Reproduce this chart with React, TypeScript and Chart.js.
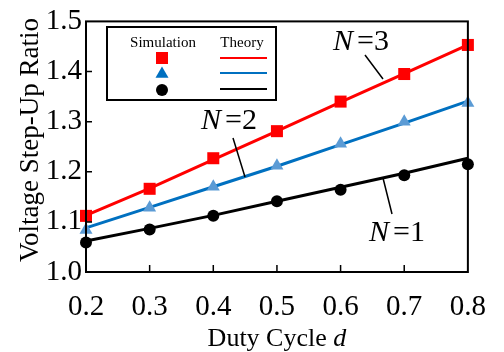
import React, { useEffect, useRef } from "react";
import { Chart, registerables } from "chart.js";

Chart.register(...registerables);

const dutyCycles = [0.2, 0.3, 0.4, 0.5, 0.6, 0.7, 0.8];
const simN3 = [1.112, 1.166, 1.227, 1.281, 1.340, 1.395, 1.453];
const simN2 = [1.084, 1.128, 1.170, 1.212, 1.256, 1.300, 1.337];
const simN1 = [1.059, 1.085, 1.112, 1.141, 1.164, 1.193, 1.215];
const theoryN3 = [1.113, 1.167, 1.224, 1.281, 1.339, 1.396, 1.453];
const theoryN2 = [1.088, 1.129, 1.170, 1.211, 1.254, 1.297, 1.341];
const theoryN1 = [1.062, 1.087, 1.113, 1.141, 1.169, 1.197, 1.227];
const xTicks = [0.2, 0.3, 0.4, 0.5, 0.6, 0.7, 0.8];
const yTicks = [1.0, 1.1, 1.2, 1.3, 1.4, 1.5];

const RED = "#ff0000";
const BLUE_LINE = "#0070c0";
const BLUE_MARK = "#5b9bd5";
const BLACK = "#000000";
const FONT = "'Liberation Serif', 'Times New Roman', serif";

const pts = (ys: number[]) => dutyCycles.map((x, i) => ({ x, y: ys[i] }));

function drawMarker(ctx: CanvasRenderingContext2D, style: string, x: number, y: number, r: number, color: string) {
  ctx.save();
  ctx.fillStyle = color;
  ctx.beginPath();
  if (style === "rect") {
    const s = Math.SQRT1_2 * r;
    ctx.rect(x - s, y - s, 2 * s, 2 * s);
  } else if (style === "triangle") {
    ctx.moveTo(x, y - r);
    ctx.lineTo(x + r * Math.sin(Math.PI / 3), y + r * 0.5);
    ctx.lineTo(x - r * Math.sin(Math.PI / 3), y + r * 0.5);
    ctx.closePath();
  } else {
    ctx.arc(x, y, r, 0, Math.PI * 2);
  }
  ctx.fill();
  ctx.restore();
}

function drawLabelN(ctx: CanvasRenderingContext2D, text: string, cx: number, cy: number) {
  const size = 30;
  ctx.save();
  ctx.fillStyle = "#000";
  ctx.textBaseline = "middle";
  ctx.textAlign = "left";
  ctx.font = `italic ${size}px ${FONT}`;
  const wN = ctx.measureText("N").width;
  ctx.font = `${size}px ${FONT}`;
  const wR = ctx.measureText("=" + text).width;
  const gap = 4;
  const total = wN + gap + wR;
  let x = cx - total / 2;
  ctx.font = `italic ${size}px ${FONT}`;
  ctx.fillText("N", x, cy);
  x += wN + gap;
  ctx.font = `${size}px ${FONT}`;
  ctx.fillText("=" + text, x, cy);
  ctx.restore();
}

const decorPlugin = {
  id: "decor",
  afterDraw(chart: any) {
    const { ctx, chartArea, scales } = chart;
    const { left, right, top, bottom } = chartArea;
    const xs = scales.x;
    const ys = scales.y;
    ctx.save();
    // frame
    ctx.strokeStyle = "#000";
    ctx.lineWidth = 2;
    ctx.strokeRect(left, top, right - left, bottom - top);
    // inward ticks
    ctx.lineWidth = 1.5;
    ctx.beginPath();
    xTicks.slice(1, -1).forEach((v) => {
      const px = xs.getPixelForValue(v);
      ctx.moveTo(px, bottom);
      ctx.lineTo(px, bottom - 7);
    });
    yTicks.slice(1, -1).forEach((v) => {
      const py = ys.getPixelForValue(v);
      ctx.moveTo(left, py);
      ctx.lineTo(left + 6, py);
    });
    ctx.stroke();

    // legend box
    ctx.lineWidth = 2;
    ctx.strokeRect(107, 27, 169, 73);
    ctx.fillStyle = "#000";
    ctx.font = `15px ${FONT}`;
    ctx.textAlign = "center";
    ctx.textBaseline = "middle";
    ctx.fillText("Simulation", 163, 43);
    ctx.fillText("Theory", 242, 43);
    drawMarker(ctx, "rect", 162, 58, 8.5, RED);
    drawMarker(ctx, "triangle", 162, 74, 7.5, BLUE_LINE);
    drawMarker(ctx, "circle", 162, 90, 6, BLACK);
    ctx.lineWidth = 2;
    [[58, RED], [73, BLUE_LINE], [89, BLACK]].forEach(([y, c]) => {
      ctx.strokeStyle = c as string;
      ctx.beginPath();
      ctx.moveTo(220, y as number);
      ctx.lineTo(267, y as number);
      ctx.stroke();
    });

    // leader lines
    ctx.strokeStyle = "#000";
    ctx.lineWidth = 1.5;
    ctx.beginPath();
    ctx.moveTo(365, 55);
    ctx.lineTo(383, 79);
    ctx.moveTo(233, 138);
    ctx.lineTo(245, 177);
    ctx.moveTo(383, 178);
    ctx.lineTo(392, 214);
    ctx.stroke();

    drawLabelN(ctx, "3", 361, 42);
    drawLabelN(ctx, "2", 229, 121);
    drawLabelN(ctx, "1", 397, 233);

    // axis titles
    ctx.fillStyle = "#000";
    ctx.textBaseline = "middle";
    ctx.font = `26px ${FONT}`;
    const t1 = "Duty Cycle ";
    const w1 = ctx.measureText(t1).width;
    ctx.font = `italic 26px ${FONT}`;
    const w2 = ctx.measureText("d").width;
    const cxT = (left + right) / 2;
    let sx = cxT - (w1 + w2) / 2;
    ctx.textAlign = "left";
    ctx.font = `26px ${FONT}`;
    ctx.fillText(t1, sx, 339);
    ctx.font = `italic 26px ${FONT}`;
    ctx.fillText("d", sx + w1, 339);

    ctx.save();
    ctx.translate(31, 140);
    ctx.rotate(-Math.PI / 2);
    ctx.textAlign = "center";
    ctx.font = `27px ${FONT}`;
    ctx.fillText("Voltage Step-Up Ratio", 0, 0);
    ctx.restore();

    ctx.restore();
  },
};

export default function App() {
  const ref = useRef<HTMLCanvasElement | null>(null);
  useEffect(() => {
    document.body.style.margin = "0";
    const canvas = ref.current;
    if (!canvas) return;
    const chart = new Chart(canvas, {
      type: "line",
      data: {
        datasets: [
          { label: "Sim N=3", data: pts(simN3), showLine: false, pointStyle: "rect", pointRadius: 8.5, pointBackgroundColor: RED, pointBorderWidth: 0, borderColor: RED, order: 1 },
          { label: "Sim N=2", data: pts(simN2), showLine: false, pointStyle: "triangle", pointRadius: 7.5, pointBackgroundColor: BLUE_MARK, pointBorderWidth: 0, borderColor: BLUE_MARK, order: 1 },
          { label: "Sim N=1", data: pts(simN1), showLine: false, pointStyle: "circle", pointRadius: 6, pointBackgroundColor: BLACK, pointBorderWidth: 0, borderColor: BLACK, order: 1 },
          { label: "Theory N=3", data: pts(theoryN3), borderColor: RED, borderWidth: 3, pointRadius: 0, order: 2 },
          { label: "Theory N=2", data: pts(theoryN2), borderColor: BLUE_LINE, borderWidth: 3, pointRadius: 0, order: 2 },
          { label: "Theory N=1", data: pts(theoryN1), borderColor: BLACK, borderWidth: 3, pointRadius: 0, order: 2 },
        ] as any,
      },
      options: {
        animation: false,
        responsive: false,
        events: [],
        layout: { padding: { left: 0, right: 34, top: 17, bottom: 0 } },
        plugins: { legend: { display: false }, tooltip: { enabled: false } },
        elements: { line: { tension: 0 } },
        datasets: { line: { clip: false } } as any,
        scales: {
          x: {
            type: "linear",
            min: 0.2,
            max: 0.8,
            afterBuildTicks: (s: any) => { s.ticks = xTicks.map((v) => ({ value: v })); },
            afterFit: (s: any) => { s.height = 80; },
            grid: { display: false, drawTicks: false },
            border: { display: false },
            ticks: {
              color: "#000",
              padding: 18,
              maxRotation: 0,
              font: { family: FONT, size: 29 },
              callback: (v: any) => Number(v).toFixed(1),
            },
          },
          y: {
            type: "linear",
            min: 1.0,
            max: 1.5,
            afterBuildTicks: (s: any) => { s.ticks = yTicks.map((v) => ({ value: v })); },
            afterFit: (s: any) => { s.width = 86; },
            grid: { display: false, drawTicks: false },
            border: { display: false },
            ticks: {
              color: "#000",
              padding: 4,
              font: { family: FONT, size: 29 },
              callback: (v: any) => Number(v).toFixed(1),
            },
          },
        },
      },
      plugins: [decorPlugin],
    });
    return () => chart.destroy();
  }, []);
  return <canvas ref={ref} width={504} height={352} style={{ display: "block", width: 504, height: 352 }} />;
}
